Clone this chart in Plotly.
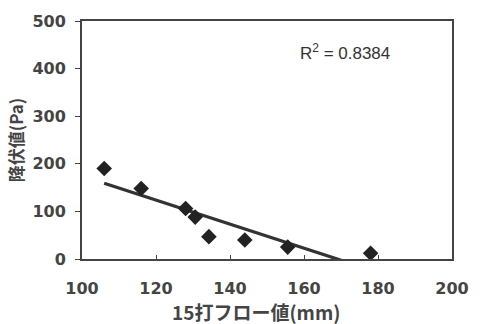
import numpy as np
import plotly.graph_objects as go

flow_mm = [106, 116, 128, 130.6, 134.3, 144, 155.6, 178]
yield_pa = [190, 148, 106, 88, 47, 40, 25, 12]
r2_label = "R<sup>2</sup> = 0.8384"
x_title = "15打フロー値(mm)"
y_title = "降伏値(Pa)"

slope, intercept = np.polyfit(flow_mm, yield_pa, 1)
fit_x = [min(flow_mm), max(flow_mm)]
fit_y = [slope * v + intercept for v in fit_x]

fig = go.Figure()
fig.add_trace(go.Scatter(x=fit_x, y=fit_y, mode="lines",
                         line=dict(color="#333333", width=3.2), showlegend=False))
fig.add_trace(go.Scatter(x=flow_mm, y=yield_pa, mode="markers",
                         marker=dict(symbol="diamond", size=12, color="#222222"),
                         showlegend=False, cliponaxis=False))

tickfont = dict(family="DejaVu Sans", size=16, color="#444444", weight="bold")
fig.update_layout(
    width=481, height=324,
    margin=dict(l=82, r=18, t=15, b=65),
    paper_bgcolor="white", plot_bgcolor="white",
    xaxis=dict(range=[100, 200], dtick=20, showgrid=False, zeroline=False,
               showline=True, linecolor="#444444", linewidth=2, mirror=True,
               ticks="inside", ticklen=4, tickcolor="#444444",
               tickfont=tickfont, ticklabelstandoff=14),
    yaxis=dict(range=[0, 500], dtick=100, showgrid=False, zeroline=False,
               showline=True, linecolor="#444444", linewidth=2, mirror=True,
               ticks="outside", ticklen=5, tickcolor="#444444",
               tickfont=tickfont, ticklabelstandoff=6,
               title=dict(text=y_title, standoff=4,
                          font=dict(family="Noto Sans CJK JP", size=17, color="#444444", weight="bold"))),
    annotations=[
        dict(x=0.585, y=0.87, xref="paper", yref="paper", xanchor="left",
             yanchor="middle", text=r2_label, showarrow=False,
             font=dict(family="Liberation Sans", size=17, color="#333333")),
        dict(x=0.47, y=-0.221, xref="paper", yref="paper", xanchor="center",
             yanchor="middle", text=x_title, showarrow=False,
             font=dict(family="Noto Sans CJK JP", size=19, color="#444444", weight="bold")),
    ],
)
fig.write_html("out.html")
